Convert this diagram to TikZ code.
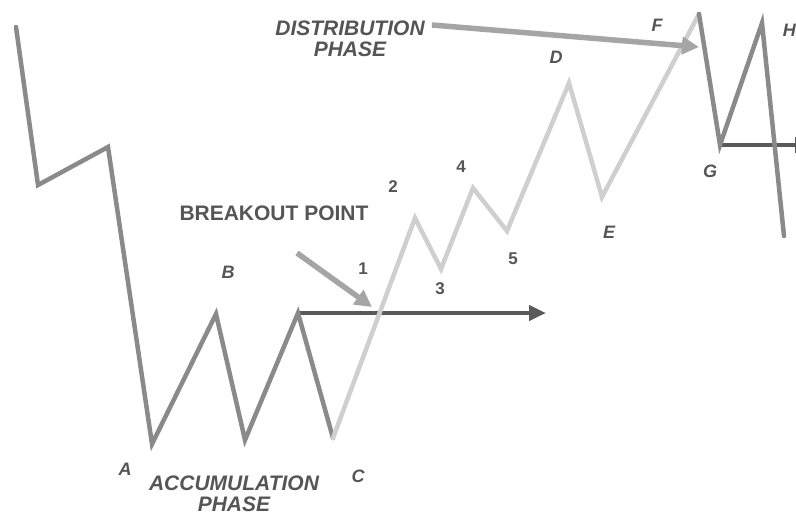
\documentclass[tikz,border=0pt]{standalone}
\usepackage{fontspec}
\setmainfont{Liberation Sans}
\usetikzlibrary{arrows.meta}
\definecolor{txt}{HTML}{555555}
\definecolor{darkline}{HTML}{8A8A8A}
\definecolor{lightline}{HTML}{CFCFCF}
\definecolor{arrowdark}{HTML}{5A5A5A}
\definecolor{arrowmid}{HTML}{A5A5A5}
\tikzset{
  lbl/.style={text=txt, font=\fontsize{18}{18}\selectfont\bfseries\itshape, inner sep=0pt},
  num/.style={text=txt, font=\fontsize{17}{17}\selectfont\bfseries, inner sep=0pt},
  phase/.style={text=txt, font=\fontsize{21}{21}\selectfont\bfseries\itshape, align=center, inner sep=0pt},
  darkpath/.style={draw=darkline, line width=4.5pt, line join=miter, line cap=round},
  lightpath/.style={draw=lightline, line width=4.5pt, line join=miter, line cap=round},
  levelarrow/.style={draw=arrowdark, line width=4.5pt, -{Triangle[length=17pt,width=15pt]}},
  pointer/.style={draw=arrowmid, line width=5.5pt, -{Triangle[length=17pt,width=17pt]}},
}
\begin{document}
\begin{tikzpicture}[x=1pt,y=-1pt]
\useasboundingbox (0,0) rectangle (796,517);
\clip (0,0) rectangle (796,517);
% vertices
\coordinate (s0) at (16,27);
\coordinate (s1) at (38,185);
\coordinate (s2) at (108,147);
\coordinate (pA) at (152,444);
\coordinate (pB) at (216,314);
\coordinate (t2) at (245,440);
\coordinate (p3) at (298,313);
\coordinate (pC) at (333,438);
\coordinate (p2) at (415,218);
\coordinate (p3b) at (441,269);
\coordinate (p4) at (473,188);
\coordinate (p5) at (507,231);
\coordinate (pD) at (569,83);
\coordinate (pE) at (602,197);
\coordinate (pF) at (699,14);
\coordinate (pG) at (720,145);
\coordinate (pH) at (762,23);
\coordinate (pend) at (784,236);
\coordinate (lvl1end) at (546,313);
\coordinate (lvl2end) at (812,145);
% labels
\node[phase] (dist) at (350,39) {DISTRIBUTION\\PHASE};
\node[phase] (accum) at (234,494) {ACCUMULATION\\PHASE};
\node[text=txt, font=\fontsize{21}{21}\selectfont\bfseries, inner sep=0pt] (brk) at (274,213) {BREAKOUT POINT};
\node[lbl] (lA) at (125,469) {A};
\node[lbl] (lB) at (228,272) {B};
\node[lbl] (lC) at (358,476) {C};
\node[lbl] (lD) at (556,57) {D};
\node[lbl] (lE) at (609,232) {E};
\node[lbl] (lF) at (657,25) {F};
\node[lbl] (lG) at (710,171) {G};
\node[lbl, anchor=east] (lH) at (796,30) {H};
\node[num] (n1) at (363,269) {1};
\node[num] (n2) at (393,187) {2};
\node[num] (n3) at (440,289) {3};
\node[num] (n4) at (461,167) {4};
\node[num] (n5) at (513,259) {5};
\coordinate (brkstart) at (297,253);
\coordinate (brktip) at (372,307);
\coordinate (diststart) at (432,25);
\coordinate (disttip) at (699,47);
% level arrows
\draw[levelarrow] (p3) -- (lvl1end);
\draw[levelarrow] (pG) -- (lvl2end);
% price paths
\draw[darkpath] (s0) -- (s1) -- (s2) -- (pA) -- (pB) -- (t2) -- (p3) -- (pC);
\draw[lightpath] (pC) -- (p2) -- (p3b) -- (p4) -- (p5) -- (pD) -- (pE) -- (pF);
\draw[darkpath] (pF) -- (pG) -- (pH) -- (pend);
% pointers
\draw[pointer] (brkstart) -- (brktip);
\draw[pointer] (diststart) -- (disttip);
\end{tikzpicture}
\end{document}
